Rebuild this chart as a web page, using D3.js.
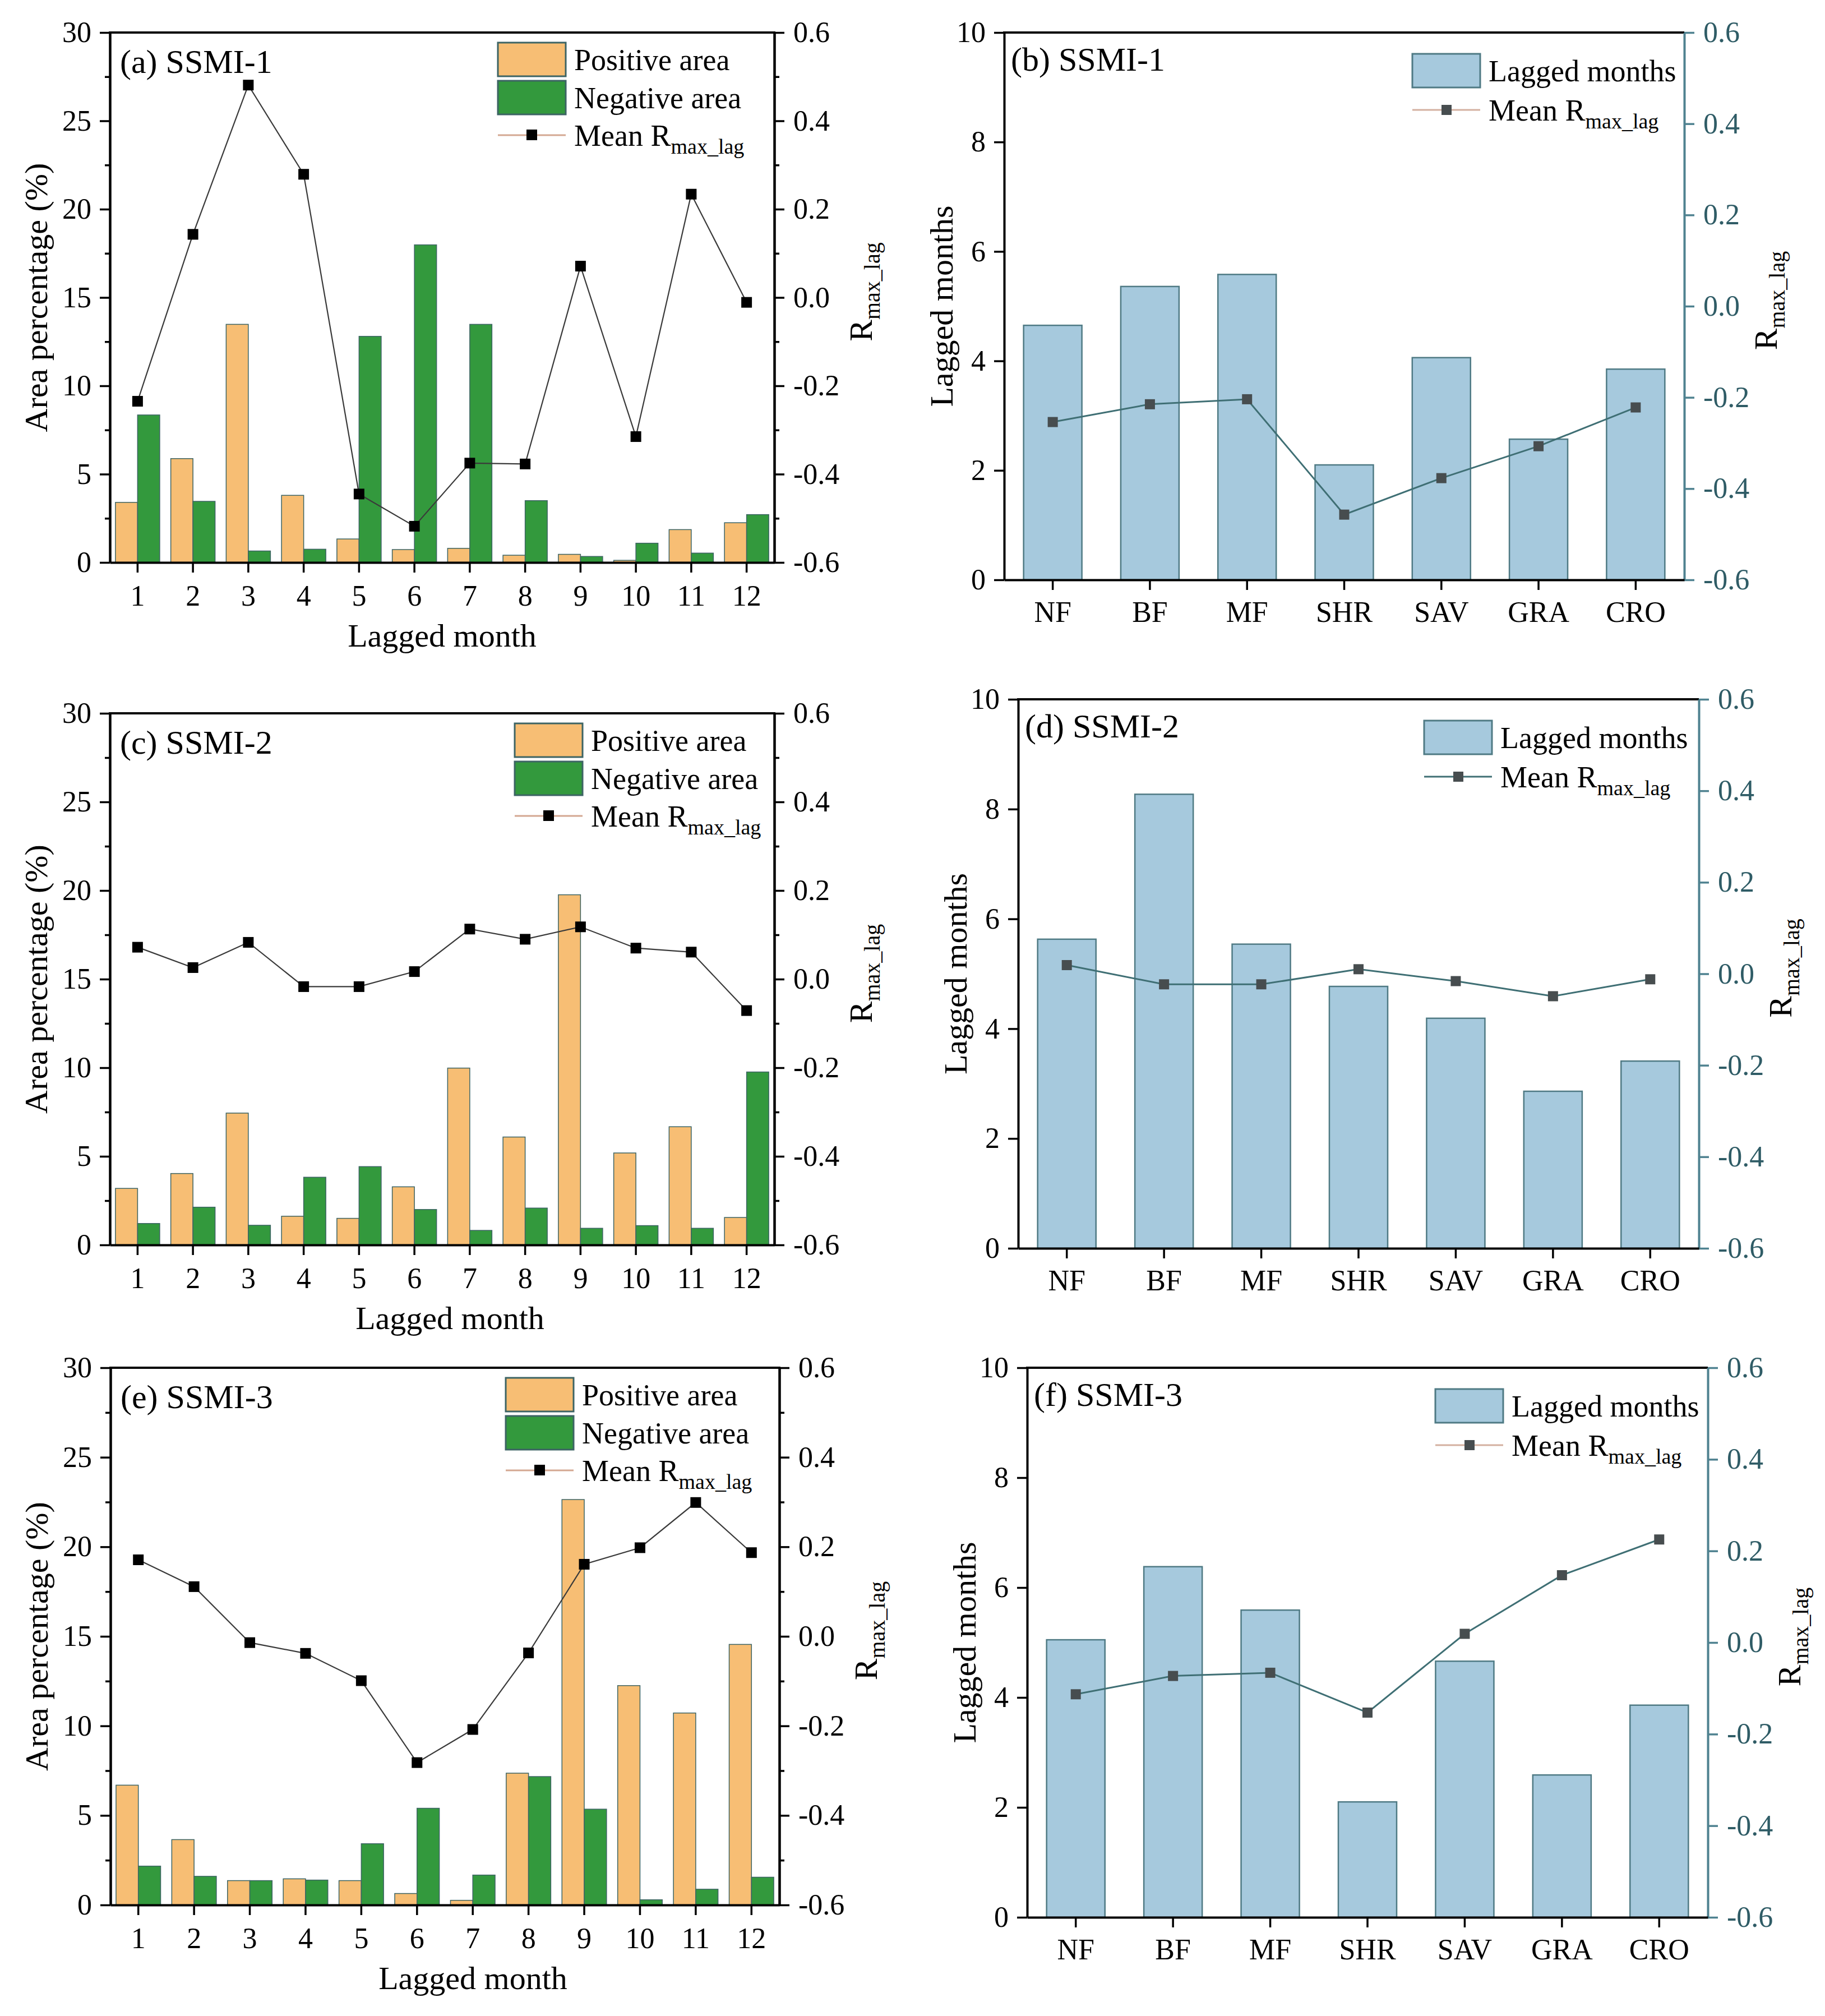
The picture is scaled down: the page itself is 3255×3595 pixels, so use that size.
<!DOCTYPE html>
<html>
<head>
<meta charset="utf-8">
<script src="https://cdn.jsdelivr.net/npm/d3@7/dist/d3.min.js"></script>
<style>
  body { margin: 0; background: #fff; }
  text { font-family: "Liberation Serif", "Times New Roman", serif; }
</style>
</head>
<body>
<svg id="fig"></svg>
<script>
// ---- data ----
var months = [1, 2, 3, 4, 5, 6, 7, 8, 9, 10, 11, 12];
var covers = ["NF", "BF", "MF", "SHR", "SAV", "GRA", "CRO"];

// SSMI-1
var posA = [3.4, 5.88, 13.48, 3.8, 1.33, 0.73, 0.8, 0.41, 0.46, 0.12, 1.86, 2.25];
var negA = [8.35, 3.46, 0.65, 0.75, 12.8, 17.98, 13.48, 3.5, 0.34, 1.09, 0.53, 2.71];
var rA = [-0.235, 0.143, 0.481, 0.279, -0.445, -0.518, -0.375, -0.377, 0.071, -0.315, 0.234, -0.011];
var lagB = [4.65, 5.36, 5.58, 2.10, 4.06, 2.57, 3.85];
var rB = [-0.254, -0.215, -0.204, -0.457, -0.377, -0.307, -0.222];

// SSMI-2
var posC = [3.19, 4.03, 7.44, 1.62, 1.5, 3.28, 9.98, 6.09, 19.76, 5.19, 6.67, 1.55];
var negC = [1.21, 2.13, 1.11, 3.82, 4.42, 2.0, 0.82, 2.08, 0.94, 1.09, 0.94, 9.76];
var rC = [0.072, 0.026, 0.083, -0.017, -0.017, 0.017, 0.113, 0.090, 0.118, 0.070, 0.061, -0.071];
var lagD = [5.63, 8.27, 5.54, 4.77, 4.19, 2.86, 3.41];
var rD = [0.019, -0.023, -0.023, 0.010, -0.016, -0.049, -0.012];

// SSMI-3
var posE = [6.69, 3.65, 1.36, 1.46, 1.36, 0.64, 0.26, 7.36, 22.64, 12.25, 10.72, 14.55];
var negE = [2.17, 1.6, 1.36, 1.39, 3.42, 5.4, 1.67, 7.17, 5.35, 0.29, 0.88, 1.55];
var rE = [0.171, 0.111, -0.014, -0.038, -0.099, -0.282, -0.208, -0.037, 0.161, 0.198, 0.299, 0.187];
var lagF = [5.05, 6.38, 5.59, 2.10, 4.66, 2.59, 3.86];
var rF = [-0.113, -0.073, -0.066, -0.153, 0.019, 0.147, 0.225];

var areaTicks = [0, 5, 10, 15, 20, 25, 30];
var areaMinor = [2.5, 7.5, 12.5, 17.5, 22.5, 27.5];
var lagTicks = [0, 2, 4, 6, 8, 10];
var rTicks = [-0.6, -0.4, -0.2, 0.0, 0.2, 0.4, 0.6];
var rMinor = [-0.5, -0.3, -0.1, 0.1, 0.3, 0.5];

// ---- styles ----
var orange = "#F7BE74", green = "#33993D", blue = "#A6C9DD";
var barEdge = "#3d6464", blueEdge = "#4f7a84";
var teal = "#4f8290", tealText = "#2f5c66";
var fsTick = 52, fsTitle = 58, fsLeg = 54, fsPanel = 60;

var W = 3255, H = 3595;
var svg = d3.select("#fig").attr("width", W).attr("height", H);
svg.append("rect").attr("width", W).attr("height", H).attr("fill", "#fff");

function styleAxis(g, color, textColor) {
  g.selectAll("path").attr("stroke", color).attr("stroke-width", 4);
  g.selectAll("line").attr("stroke", color).attr("stroke-width", 3.5);
  g.selectAll("text")
    .attr("fill", textColor || "#000")
    .style("font-size", fsTick + "px")
    .style("font-family", "Liberation Serif, serif");
}

function rTitle(g, x, y, color) {
  var t = g.append("text")
    .attr("transform", "translate(" + x + "," + y + ") rotate(-90)")
    .attr("text-anchor", "middle")
    .attr("fill", color)
    .style("font-size", fsTitle + "px");
  t.append("tspan").text("R");
  t.append("tspan").attr("dy", 14).style("font-size", "40px").text("max_lag");
}

function meanLabel(g, x, y) {
  var t = g.append("text").attr("x", x).attr("y", y).style("font-size", fsLeg + "px");
  t.append("tspan").text("Mean R");
  t.append("tspan").attr("dy", 14).style("font-size", "38px").text("max_lag");
}

// left column: positive / negative area by lagged month
function monthPanel(p, pos, neg, r) {
  var g = svg.append("g");
  var x = d3.scaleBand().domain(months).range([p.x0, p.x1]);
  var y = d3.scaleLinear().domain([0, 30]).range([p.y1, p.y0]);
  var y2 = d3.scaleLinear().domain([-0.6, 0.6]).range([p.y1, p.y0]);
  var s = x.step();

  g.selectAll(".pos").data(months).enter().append("rect")
    .attr("x", d => x(d) + s * 0.1)
    .attr("width", s * 0.4)
    .attr("y", (d, i) => y(pos[i]))
    .attr("height", (d, i) => y(0) - y(pos[i]))
    .attr("fill", orange).attr("stroke", barEdge).attr("stroke-width", 1.5);

  g.selectAll(".neg").data(months).enter().append("rect")
    .attr("x", d => x(d) + s * 0.5)
    .attr("width", s * 0.4)
    .attr("y", (d, i) => y(neg[i]))
    .attr("height", (d, i) => y(0) - y(neg[i]))
    .attr("fill", green).attr("stroke", barEdge).attr("stroke-width", 1.5);

  var line = d3.line()
    .x((d, i) => x(months[i]) + s / 2)
    .y(d => y2(d));
  g.append("path").datum(r).attr("d", line)
    .attr("fill", "none").attr("stroke", "#3a3a3a").attr("stroke-width", 2.2);
  g.selectAll(".pt").data(r).enter().append("rect")
    .attr("x", (d, i) => x(months[i]) + s / 2 - 9.5)
    .attr("y", d => y2(d) - 9.5)
    .attr("width", 19).attr("height", 19)
    .attr("fill", "#000");

  // axes
  g.append("line").attr("x1", p.x0 - 2).attr("x2", p.x1 + 2)
    .attr("y1", p.y0).attr("y2", p.y0).attr("stroke", "#000").attr("stroke-width", 4);

  var ax = g.append("g").attr("transform", "translate(" + p.x0 + ",0)")
    .call(d3.axisLeft(y).tickValues(areaTicks).tickSize(18).tickSizeOuter(0).tickPadding(15));
  styleAxis(ax, "#000");
  var axm = g.append("g").attr("transform", "translate(" + p.x0 + ",0)")
    .call(d3.axisLeft(y).tickValues(areaMinor).tickSize(9).tickSizeOuter(0).tickFormat(""));
  styleAxis(axm, "#000");

  var ar = g.append("g").attr("transform", "translate(" + p.x1 + ",0)")
    .call(d3.axisRight(y2).tickValues(rTicks).tickSize(18).tickSizeOuter(0).tickPadding(16)
      .tickFormat(d => d.toFixed(1)));
  styleAxis(ar, "#000");
  var arm = g.append("g").attr("transform", "translate(" + p.x1 + ",0)")
    .call(d3.axisRight(y2).tickValues(rMinor).tickSize(9).tickSizeOuter(0).tickFormat(""));
  styleAxis(arm, "#000");

  var ab = g.append("g").attr("transform", "translate(0," + p.y1 + ")")
    .call(d3.axisBottom(x).tickSize(18).tickSizeOuter(0).tickPadding(22));
  styleAxis(ab, "#000");

  // titles
  var cy = (p.y0 + p.y1) / 2;
  g.append("text").attr("transform", "translate(" + (p.x0 - 112) + "," + cy + ") rotate(-90)")
    .attr("text-anchor", "middle").style("font-size", fsTitle + "px").text("Area percentage (%)");
  g.append("text").attr("x", (p.x0 + p.x1) / 2 + p.xtDx).attr("y", p.y1 + 150)
    .attr("text-anchor", "middle").style("font-size", fsTitle + "px").text("Lagged month");
  rTitle(g, p.x1 + 174, cy - 10, "#000");
  g.append("text").attr("x", p.x0 + 18).attr("y", p.y0 + 72)
    .style("font-size", fsPanel + "px").text(p.label);

  // legend
  var lx = p.legX, ly = p.y0;
  g.append("rect").attr("x", lx).attr("y", ly + 18).attr("width", 121).attr("height", 60)
    .attr("fill", orange).attr("stroke", barEdge).attr("stroke-width", 3);
  g.append("rect").attr("x", lx).attr("y", ly + 86).attr("width", 121).attr("height", 60)
    .attr("fill", green).attr("stroke", barEdge).attr("stroke-width", 3);
  g.append("line").attr("x1", lx).attr("x2", lx + 121).attr("y1", ly + 183).attr("y2", ly + 183)
    .attr("stroke", "#d4a892").attr("stroke-width", 3);
  g.append("rect").attr("x", lx + 51).attr("y", ly + 173).attr("width", 19).attr("height", 19).attr("fill", "#000");
  g.append("text").attr("x", lx + 136).attr("y", ly + 67).style("font-size", fsLeg + "px").text("Positive area");
  g.append("text").attr("x", lx + 136).attr("y", ly + 135).style("font-size", fsLeg + "px").text("Negative area");
  meanLabel(g, lx + 136, ly + 202);
}

// right column: lagged months by land cover
function coverPanel(p, lag, r) {
  var g = svg.append("g");
  var x = d3.scaleBand().domain(covers).range([p.x0, p.x1]).paddingInner(0.4).paddingOuter(0.2);
  var y = d3.scaleLinear().domain([0, 10]).range([p.y1, p.y0]);
  var y2 = d3.scaleLinear().domain([-0.6, 0.6]).range([p.y1, p.y0]);
  var bw = x.bandwidth();

  g.selectAll(".bar").data(covers).enter().append("rect")
    .attr("x", d => x(d))
    .attr("width", bw)
    .attr("y", (d, i) => y(lag[i]))
    .attr("height", (d, i) => y(0) - y(lag[i]))
    .attr("fill", blue).attr("stroke", blueEdge).attr("stroke-width", 2.5);

  var line = d3.line()
    .x((d, i) => x(covers[i]) + bw / 2)
    .y(d => y2(d));
  g.append("path").datum(r).attr("d", line)
    .attr("fill", "none").attr("stroke", "#3f6f74").attr("stroke-width", 3);
  g.selectAll(".pt").data(r).enter().append("rect")
    .attr("x", (d, i) => x(covers[i]) + bw / 2 - 9)
    .attr("y", d => y2(d) - 9)
    .attr("width", 18).attr("height", 18)
    .attr("fill", "#474d4f");

  g.append("line").attr("x1", p.x0 - 2).attr("x2", p.x1).attr("y1", p.y0).attr("y2", p.y0)
    .attr("stroke", "#000").attr("stroke-width", 4);

  var ax = g.append("g").attr("transform", "translate(" + p.x0 + ",0)")
    .call(d3.axisLeft(y).tickValues(lagTicks).tickSize(18).tickSizeOuter(0).tickPadding(15));
  styleAxis(ax, "#000");

  var ar = g.append("g").attr("transform", "translate(" + p.x1 + ",0)")
    .call(d3.axisRight(y2).tickValues(rTicks).tickSize(18).tickSizeOuter(0).tickPadding(16)
      .tickFormat(d => d.toFixed(1)));
  styleAxis(ar, teal, tealText);

  var ab = g.append("g").attr("transform", "translate(0," + p.y1 + ")")
    .call(d3.axisBottom(x).tickSize(18).tickSizeOuter(0).tickPadding(20));
  styleAxis(ab, "#000");

  var cy = (p.y0 + p.y1) / 2;
  g.append("text").attr("transform", "translate(" + (p.x0 - 92) + "," + cy + ") rotate(-90)")
    .attr("text-anchor", "middle").style("font-size", fsTitle + "px").text("Lagged months");
  rTitle(g, p.x1 + 165, cy - 10, "#000");
  g.append("text").attr("x", p.x0 + 12).attr("y", p.y0 + 68)
    .style("font-size", fsPanel + "px").text(p.label);

  var lx = p.legX, ly = p.y0;
  g.append("rect").attr("x", lx).attr("y", ly + 38).attr("width", 121).attr("height", 60)
    .attr("fill", blue).attr("stroke", blueEdge).attr("stroke-width", 3);
  g.append("line").attr("x1", lx).attr("x2", lx + 121).attr("y1", ly + 138).attr("y2", ly + 138)
    .attr("stroke", p.legLine).attr("stroke-width", 3);
  g.append("rect").attr("x", lx + 52).attr("y", ly + 129).attr("width", 18).attr("height", 18).attr("fill", "#474d4f");
  g.append("text").attr("x", lx + 136).attr("y", ly + 87).style("font-size", fsLeg + "px").text("Lagged months");
  meanLabel(g, lx + 136, ly + 157);
}

monthPanel({x0: 196, x1: 1381, y0: 58, y1: 1003, legX: 888, xtDx: 0, label: "(a) SSMI-1"}, posA, negA, rA);
monthPanel({x0: 196, x1: 1381, y0: 1272, y1: 2220, legX: 918, xtDx: 14, label: "(c) SSMI-2"}, posC, negC, rC);
monthPanel({x0: 197, x1: 1390, y0: 2439, y1: 3397, legX: 902, xtDx: 50, label: "(e) SSMI-3"}, posE, negE, rE);

coverPanel({x0: 1791, x1: 3004, y0: 58, y1: 1034, legX: 2519, legLine: "#d4b0a0", label: "(b) SSMI-1"}, lagB, rB);
coverPanel({x0: 1816, x1: 3030, y0: 1247, y1: 2226, legX: 2540, legLine: "#3f6f74", label: "(d) SSMI-2"}, lagD, rD);
coverPanel({x0: 1832, x1: 3046, y0: 2439, y1: 3419, legX: 2560, legLine: "#d4b0a0", label: "(f) SSMI-3"}, lagF, rF);
</script>
</body>
</html>
